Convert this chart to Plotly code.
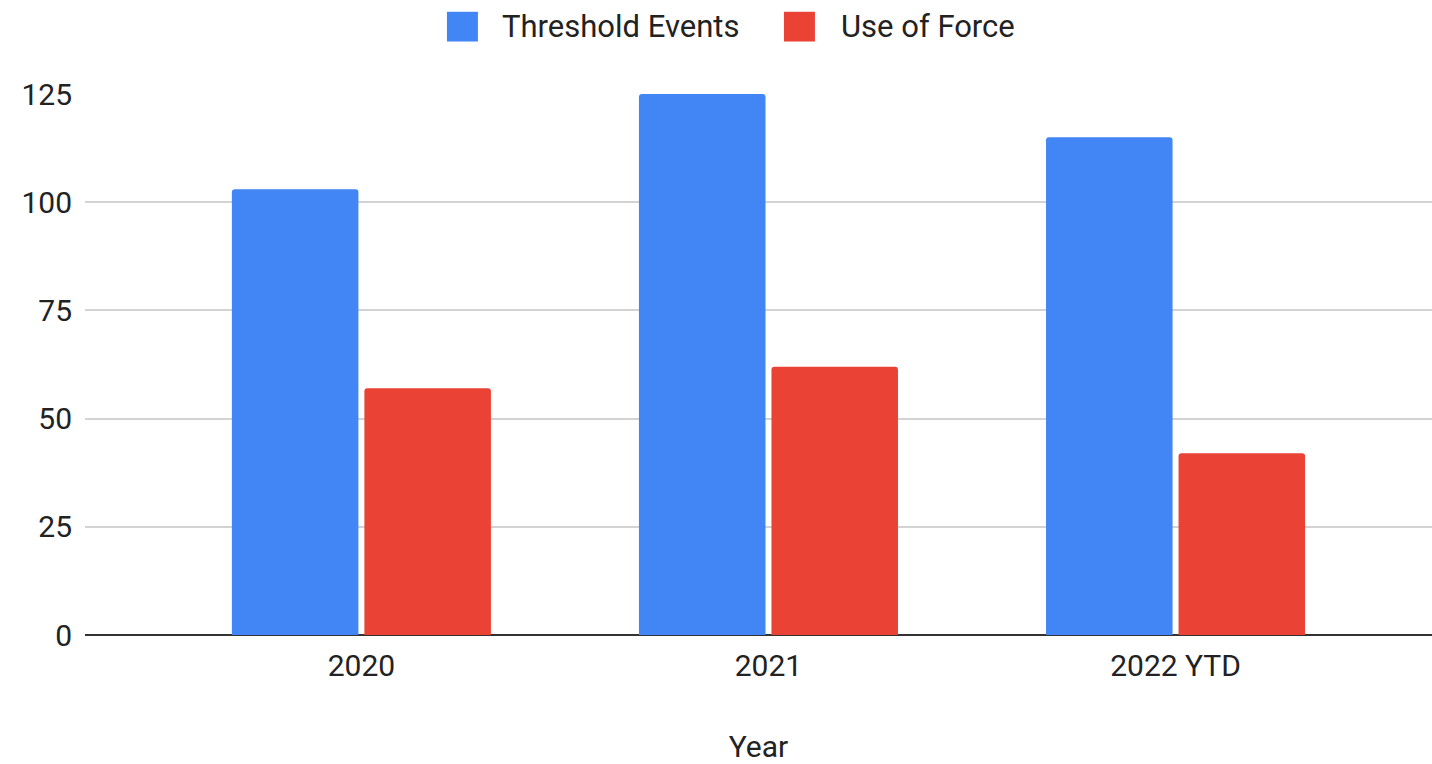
import plotly.graph_objects as go

categories = ["2020", "2021", "2022 YTD"]
series_names = ["Threshold Events", "Use of Force"]
threshold_events = [103, 125, 115]
use_of_force = [57, 62, 42]
y_ticks = [0, 25, 50, 75, 100, 125]
colors = ["#4285F4", "#EA4335"]

FONT = "Roboto, Arial, sans-serif"
FS = 30

fig = go.Figure()
for name, vals, col in zip(series_names, [threshold_events, use_of_force], colors):
    fig.add_trace(go.Bar(x=categories, y=vals, name=name, marker_color=col,
                         marker_line_width=0, showlegend=False))

# custom legend (large swatches as in the reference)
legend_items = [(0.2687, 0.3081), (0.5189, 0.5594)]
for (sx, tx), name, col in zip(legend_items, series_names, colors):
    fig.add_shape(type="rect", xref="paper", yref="paper",
                  x0=sx, x1=sx + 0.023, y0=1.097, y1=1.152,
                  fillcolor=col, line_width=0)
    fig.add_annotation(xref="paper", yref="paper", x=tx, y=1.124,
                       text=name, showarrow=False, xanchor="left", yanchor="middle",
                       font=dict(family=FONT, size=31, color="#222222"))

fig.update_layout(
    width=1432, height=764,
    margin=dict(l=85, r=0, t=94, b=129),
    paper_bgcolor="white", plot_bgcolor="white",
    barmode="group", bargap=0.349, bargroupgap=0.045,
    barcornerradius=3,
    font=dict(family=FONT, size=FS, color="#222222"),
    showlegend=False,
)
fig.update_xaxes(
    range=[-0.679, 2.630], showgrid=False, zeroline=False,
    showline=False, ticks="", ticklabelstandoff=10,
    title=dict(text="Year", font=dict(family=FONT, size=FS, color="#222222"), standoff=61),
)
fig.update_yaxes(
    range=[0, 125], tickvals=y_ticks, showgrid=True, gridcolor="#d3d3d3", gridwidth=2,
    zeroline=True, zerolinecolor="#333333", zerolinewidth=2,
    showline=False, ticks="", ticklabelstandoff=12,
)

# remove the default 8px body margin so the figure fills the window exactly
fig.write_html(
    "out.html",
    config={"displayModeBar": False},
    post_script="document.body.style.margin='0';document.body.style.overflow='hidden';",
)
